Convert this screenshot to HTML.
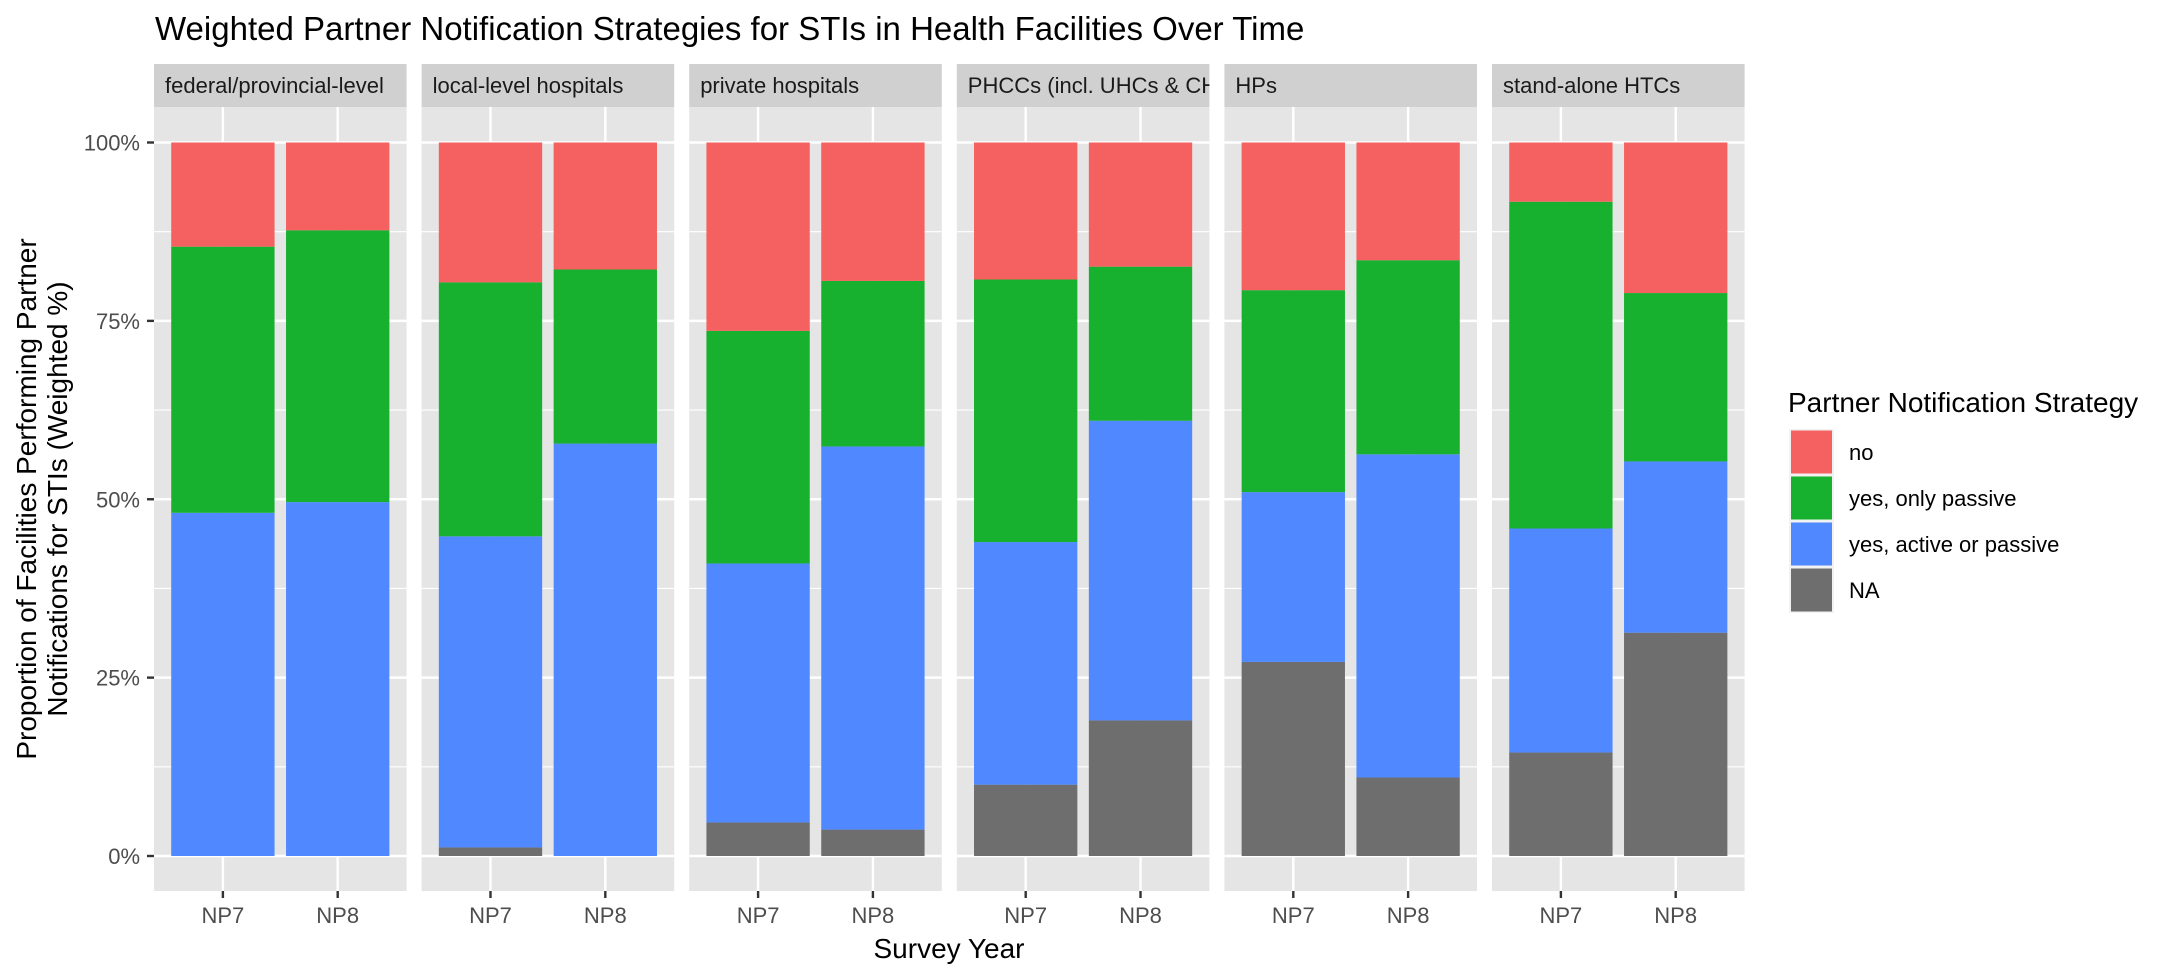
<!DOCTYPE html>
<html><head><meta charset="utf-8"><style>
html,body{margin:0;padding:0;background:#fff;}
svg{display:block;font-family:"Liberation Sans",Arial,sans-serif;}
</style></head><body>
<svg id="chart" width="2184" height="976" viewBox="0 0 2184 976">
<text x="155" y="40" font-size="33" fill="#000">Weighted Partner Notification Strategies for STIs in Health Facilities Over Time</text>
<g id="panels"></g>
<g>
<text transform="translate(36,499) rotate(-90)" text-anchor="middle" font-size="28" fill="#000">Proportion of Facilities Performing Partner</text>
<text transform="translate(67,499) rotate(-90)" text-anchor="middle" font-size="28" fill="#000">Notifications for STIs (Weighted %)</text>
</g>
<text x="949" y="958" text-anchor="middle" font-size="28" fill="#000">Survey Year</text>
<g id="legend">
<text x="1788" y="412" font-size="28" fill="#000">Partner Notification Strategy</text>
</g>
</svg>
<script>
const facets = ["federal/provincial-level","local-level hospitals","private hospitals","PHCCs (incl. UHCs & CHUs)","HPs","stand-alone HTCs"];
const years = ["NP7","NP8"];
const categories = ["NA","yes, active or passive","yes, only passive","no"];
// cumulative tops per facet/year, in percent
const naVals =      [[0,0],[1.2,0],[4.7,3.7],[10.0,19.0],[27.2,11.0],[14.5,31.3]];
const activeTop =   [[48.1,49.6],[44.8,57.8],[41.0,57.4],[44.0,61.0],[51.0,56.3],[45.9,55.3]];
const passiveTop =  [[85.4,87.7],[80.4,82.2],[73.6,80.6],[80.8,82.6],[79.3,83.5],[91.7,78.9]];
const yTicks = [0,25,50,75,100];
const yTickLabels = ["0%","25%","50%","75%","100%"];
const legendLabels = ["no","yes, only passive","yes, active or passive","NA"];

const colors = {"no":"#F46160","yes, only passive":"#17B02F","yes, active or passive":"#5088FF","NA":"#6E6E6E"};
const NS="http://www.w3.org/2000/svg";
const P0=154, PW=252.6, PSTEP=267.6, TOP=107, BOT=891, Y100=142.5, Y0=856;
const y = v => Y0 - (v/100)*(Y0-Y100);
const xPos = (p,i) => P0 + p*PSTEP + ((i+1)-0.4)/2.2*PW;
const bw = 0.9/2.2*PW;
function mk(tag,attrs,parent){const e=document.createElementNS(NS,tag);for(const k in attrs)e.setAttribute(k,attrs[k]);parent.appendChild(e);return e;}
const g=document.getElementById('panels');
const defs=mk('defs',{},g);
facets.forEach((f,p)=>{
  const L=P0+p*PSTEP;
  const pg=mk('g',{},g);
  
  
  const bg=mk('rect',{x:L,y:TOP,width:PW,height:BOT-TOP,fill:'#E5E5E5'},pg);
  
  
  for(let t=12.5;t<100;t+=25){mk('line',{x1:L,x2:L+PW,y1:y(t),y2:y(t),stroke:'#fff','stroke-width':1.2},pg);}
  yTicks.forEach(t=>{mk('line',{x1:L,x2:L+PW,y1:y(t),y2:y(t),stroke:'#fff','stroke-width':2.4},pg);});
  years.forEach((yr,i)=>{mk('line',{x1:xPos(p,i),x2:xPos(p,i),y1:TOP,y2:BOT,stroke:'#fff','stroke-width':2.4},pg);});
  years.forEach((yr,i)=>{
    const segs=[[0,naVals[p][i],'NA'],[naVals[p][i],activeTop[p][i],'yes, active or passive'],[activeTop[p][i],passiveTop[p][i],'yes, only passive'],[passiveTop[p][i],100,'no']];
    segs.forEach(s=>{
      if(s[1]-s[0]<=0) return;
      const r=mk('rect',{x:xPos(p,i)-bw/2,y:y(s[1]),width:bw,height:y(s[0])-y(s[1]),fill:colors[s[2]]},pg);
      
      
    });
    mk('line',{x1:xPos(p,i),x2:xPos(p,i),y1:BOT,y2:BOT+7,stroke:'#333','stroke-width':2.4},pg);
    const tl=mk('text',{x:xPos(p,i),y:923,'text-anchor':'middle','font-size':22,fill:'#4D4D4D'},pg);
    tl.textContent=yr;
    
    
  });
  const cp=mk('clipPath',{id:'clip'+p},defs);
  mk('rect',{x:L,y:64,width:PW,height:43},cp);
  const st=mk('rect',{x:L,y:64,width:PW,height:43,fill:'#D0D0D0'},pg);
  
  
  const stt=mk('text',{x:L+11,y:93,'font-size':22,fill:'#1A1A1A','clip-path':'url(#clip'+p+')'},pg);
  stt.textContent=f;
  
  
});
yTicks.forEach((t,k)=>{
  mk('line',{x1:147,x2:154,y1:y(t),y2:y(t),stroke:'#333','stroke-width':2.4},g);
  const tx=mk('text',{x:140,y:y(t)+8,'text-anchor':'end','font-size':22,fill:'#4D4D4D'},g);
  tx.textContent=yTickLabels[k];
  
  
});
const lg=document.getElementById('legend');
legendLabels.forEach((lab,k)=>{
  const ky=429+k*46;
  mk('rect',{x:1789,y:ky,width:45,height:46,fill:'#F2F2F2'},lg);
  const r=mk('rect',{x:1791,y:ky+1.5,width:41,height:43,fill:colors[lab]},lg);
  
  
  const t=mk('text',{x:1849,y:ky+31,'font-size':22,fill:'#000'},lg);
  t.textContent=lab;
  
  
});
</script>
</body></html>
